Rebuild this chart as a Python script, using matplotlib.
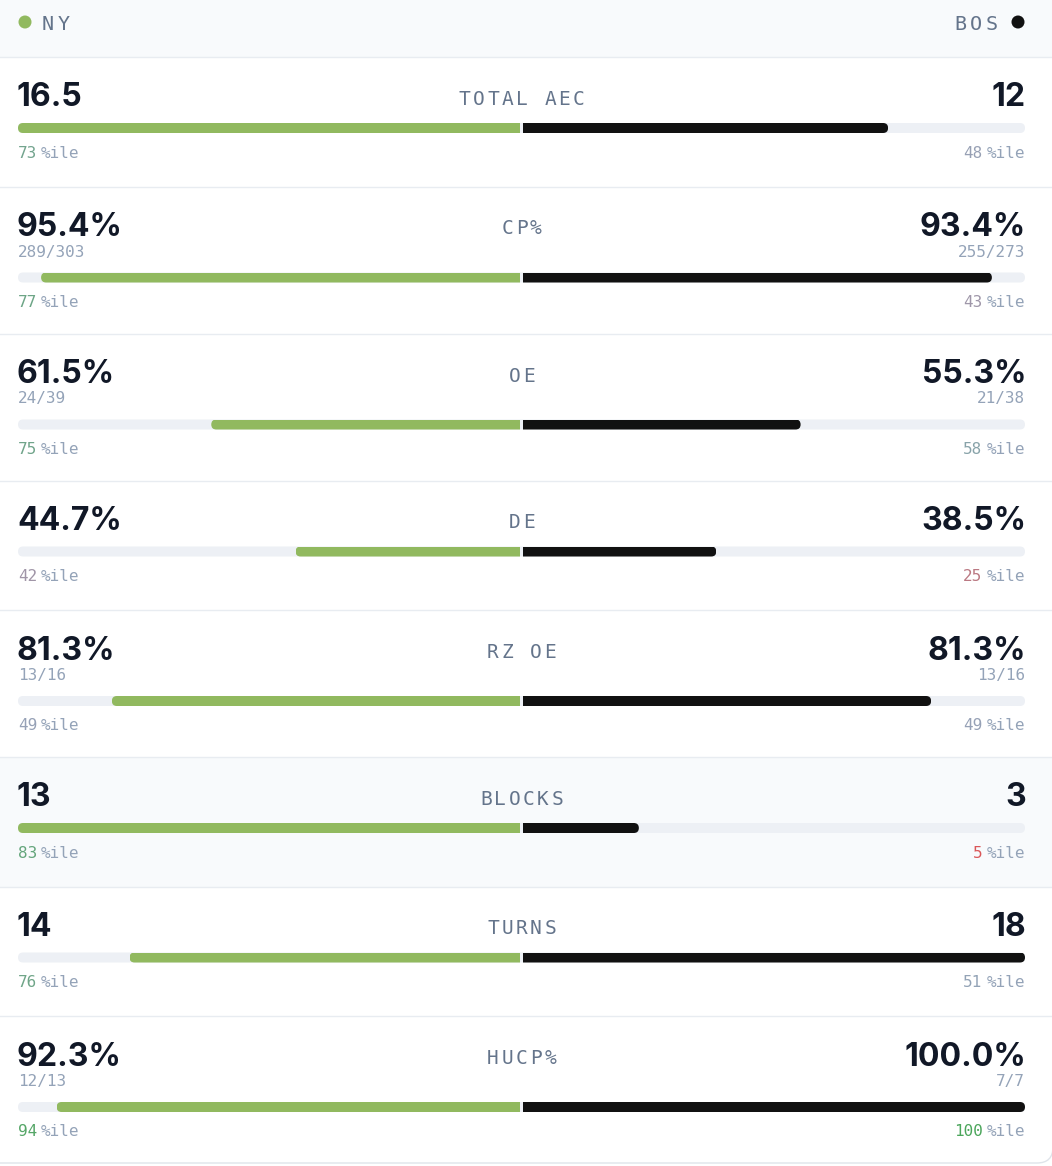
import numpy as np
import matplotlib.pyplot as plt
from matplotlib.patches import Rectangle, Circle, FancyBboxPatch


# Data
teams = ["NY", "BOS"]
metrics = ["TOTAL AEC", "CP%", "OE", "DE", "RZ OE", "BLOCKS", "TURNS", "HUCP%"]
ny_values = [16.5, 95.4, 61.5, 44.7, 81.3, 13, 14, 92.3]
bos_values = [12, 93.4, 55.3, 38.5, 81.3, 3, 18, 100.0]
is_rate = [False, True, True, True, True, False, False, True]
ny_made = [None, "289/303", "24/39", None, "13/16", None, None, "12/13"]
bos_made = [None, "255/273", "21/38", None, "13/16", None, None, "7/7"]
ny_pctile = [73, 77, 75, 42, 49, 83, 76, 94]
bos_pctile = [48, 43, 58, 25, 49, 5, 51, 100]
highlighted = ["BLOCKS"]

# Style
W, H = 1052, 1166
green = '#91b95f'
black = '#111111'
track = '#edf0f5'
value_col = '#111827'
label_col = '#64748b'
muted = '#94a3b8'
line_col = '#e8ecf1'
panel_bg = '#f8fafc'
mono = 'DejaVu Sans Mono'
x_left, x_right = 18, 1025
c_left, c_right = 520, 523  # centre gap
half = 502
bar_h = 10
header_h = 57


def pctile_color(p):
    # grey at 50, green towards 100, red towards 0
    grey = np.array([148, 163, 184]) / 255
    good = np.array([76, 166, 92]) / 255
    bad = np.array([226, 78, 78]) / 255
    t = abs(p - 50) / 50
    end = good if p >= 50 else bad
    return tuple(grey + (end - grey) * t)


def spaced_text(ax, x, y, s, size, color, pitch, ha='center'):
    adv = 0.602 * size / 0.72
    total = pitch * (len(s) - 1) + adv
    if ha == 'center':
        start = x - total / 2
    elif ha == 'right':
        start = x - total
    else:
        start = x
    for i, ch in enumerate(s):
        ax.text(start + i * pitch + adv / 2, y, ch, ha='center', va='baseline',
                fontsize=size, family=mono, color=color)


def half_bar(ax, y, start, length, color, direction):
    # square bar from the centre, clipped by a pill so the outer end is round
    bars = ax.barh(y, direction * length, left=start, height=bar_h, color=color, lw=0)
    x0 = start - length if direction < 0 else start - 20
    pill = FancyBboxPatch((x0, y - bar_h / 2), length + 20, bar_h,
                          boxstyle='round,pad=0,rounding_size=5', transform=ax.transData)
    bars[0].set_clip_path(pill)


fig = plt.figure(figsize=(W / 100, H / 100), dpi=100)
ax = fig.add_axes([0, 0, 1, 1])
ax.set_xlim(0, W)
ax.set_ylim(H, 0)
ax.axis('off')

# Header
ax.add_patch(Rectangle((0, 0), W, header_h, fc=panel_bg, ec='none', zorder=0))
ax.plot([0, W], [header_h, header_h], color=line_col, lw=1)
ax.add_patch(Circle((25, 22), 6.5, fc=green, ec='none'))
ax.add_patch(Circle((1018, 22), 6.5, fc=black, ec='none'))
spaced_text(ax, 42, 29.5, teams[0], 14.5, label_col, 16, ha='left')
spaced_text(ax, 998, 29.5, teams[1], 14.5, label_col, 16, ha='right')

pct_size = 11.5
pct_adv = 0.602 * pct_size / 0.72

top = header_h
for i, name in enumerate(metrics):
    has_sub = ny_made[i] is not None
    row_h = 147 if has_sub else 129.5
    if name in highlighted:
        ax.add_patch(Rectangle((0, top), W, row_h, fc=panel_bg, ec='none', zorder=0))

    # values
    if is_rate[i]:
        lv, rv = f"{ny_values[i]:.1f}%", f"{bos_values[i]:.1f}%"
        lf, rf = ny_values[i] / 100, bos_values[i] / 100
    else:
        lv, rv = f"{ny_values[i]:g}", f"{bos_values[i]:g}"
        m = max(ny_values[i], bos_values[i])
        lf, rf = ny_values[i] / m, bos_values[i] / m
    ax.text(x_left - 1, top + 49.5, lv, ha='left', va='baseline', fontsize=23,
            fontweight='bold', family='Inter', color=value_col)
    ax.text(x_right + 1, top + 49.5, rv, ha='right', va='baseline', fontsize=23,
            fontweight='bold', family='Inter', color=value_col)
    spaced_text(ax, (c_left + c_right) / 2, top + 48, name, 14, label_col, 14.3)

    if has_sub:
        ax.text(x_left, top + 70, ny_made[i], ha='left', va='baseline',
                fontsize=pct_size, family=mono, color=muted)
        ax.text(x_right, top + 70, bos_made[i], ha='right', va='baseline',
                fontsize=pct_size, family=mono, color=muted)

    # bars
    by = top + (91 if has_sub else 71)
    ax.add_patch(FancyBboxPatch((x_left, by - bar_h / 2), x_right - x_left, bar_h,
                                boxstyle='round,pad=0,rounding_size=5', fc=track, ec='none'))
    half_bar(ax, by, c_left, lf * half, green, -1)
    half_bar(ax, by, c_right, rf * half, black, 1)

    # percentiles
    py = by + 29.5
    ls = str(ny_pctile[i])
    ax.text(x_left, py, ls, ha='left', va='baseline', fontsize=pct_size,
            family=mono, color=pctile_color(ny_pctile[i]))
    ax.text(x_left + len(ls) * pct_adv + 4, py, "%ile", ha='left', va='baseline',
            fontsize=pct_size, family=mono, color=muted)
    rs = str(bos_pctile[i])
    ax.text(x_right, py, "%ile", ha='right', va='baseline', fontsize=pct_size,
            family=mono, color=muted)
    ax.text(x_right - 4 * pct_adv - 4, py, rs, ha='right', va='baseline',
            fontsize=pct_size, family=mono, color=pctile_color(bos_pctile[i]))

    top += row_h
    if i < len(metrics) - 1:
        ax.plot([0, W], [top, top], color=line_col, lw=1)

# card outline at the bottom (right edge sits just past the image)
ax.add_patch(FancyBboxPatch((-40, -40), W + 1 + 40, top + 40, boxstyle='round,pad=0,rounding_size=16',
                            fc='none', ec='#dfe4ea', lw=1))

fig.savefig('out.png', dpi=100)
